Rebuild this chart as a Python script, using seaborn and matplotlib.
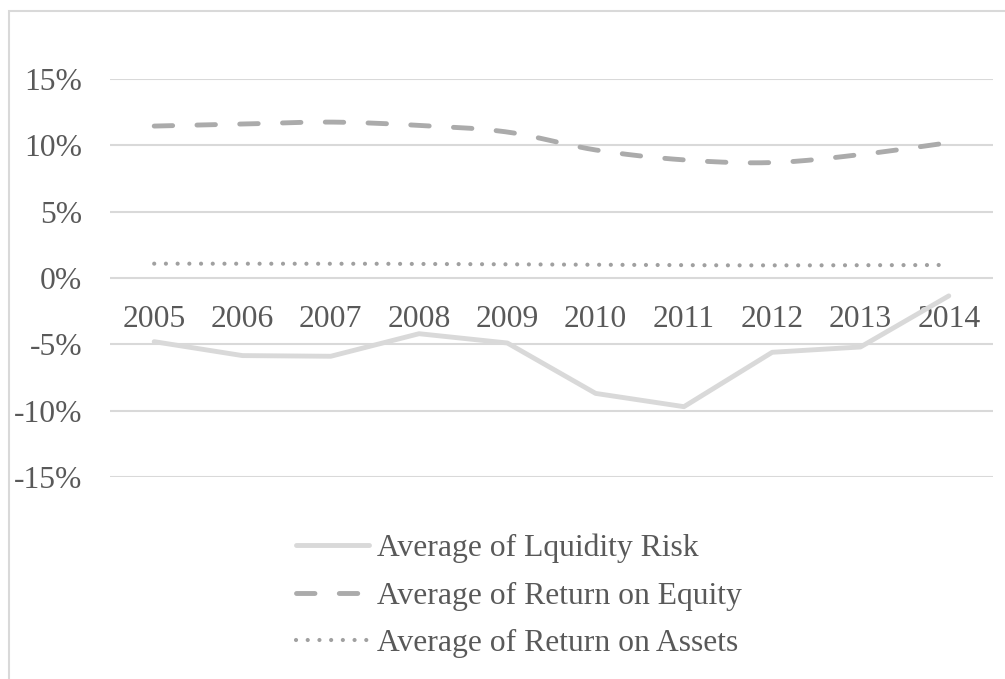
import numpy as np
import pandas as pd
import matplotlib
matplotlib.use("Agg")
import matplotlib.pyplot as plt
from matplotlib.patches import Rectangle
from matplotlib.ticker import FixedLocator, FuncFormatter
import seaborn as sns

# Yearly averages, in percent
years = ["2005", "2006", "2007", "2008", "2009", "2010", "2011", "2012", "2013", "2014"]
liquidity_risk = [-4.8, -5.85, -5.9, -4.2, -4.9, -8.7, -9.7, -5.6, -5.2, -1.35]
return_on_equity = [11.45, 11.6, 11.75, 11.5, 11.0, 9.65, 8.9, 8.7, 9.3, 10.2]
return_on_assets = [1.08, 1.08, 1.08, 1.06, 1.03, 0.99, 0.96, 0.95, 0.96, 0.98]
y_ticks = [-15, -10, -5, 0, 5, 10, 15]

TEXT = "#595959"
GRID = "#d9d9d9"
FS = 22.8


def smooth(xv, yv, n=40):
    """Catmull-Rom curve through the points (spreadsheet-style smoothed line)."""
    p = np.column_stack([xv, yv]).astype(float)
    p = np.vstack([p[0], p, p[-1]])
    xs, ys = [], []
    for i in range(1, len(p) - 2):
        p0, p1, p2, p3 = p[i - 1], p[i], p[i + 1], p[i + 2]
        t = np.linspace(0, 1, n, endpoint=(i == len(p) - 3))[:, None]
        c = 0.5 * ((2 * p1) + (-p0 + p2) * t + (2 * p0 - 5 * p1 + 4 * p2 - p3) * t ** 2
                   + (-p0 + 3 * p1 - 3 * p2 + p3) * t ** 3)
        xs.append(c[:, 0])
        ys.append(c[:, 1])
    return np.concatenate(xs), np.concatenate(ys)


sns.set_style("white")
plt.rcParams["font.family"] = ["Liberation Serif", "DejaVu Serif"]

fig = plt.figure(figsize=(10.05, 6.79), dpi=100)
ax = fig.add_axes([0.1095, 0.2975, 0.8785, 0.5862])

pos = np.arange(len(years))
df = pd.DataFrame({"pos": pos, "liq": liquidity_risk})

sns.lineplot(data=df, x="pos", y="liq", ax=ax, color="#d9d9d9", linewidth=3.5,
             solid_capstyle="round", solid_joinstyle="round", estimator=None,
             label="Average of Lquidity Risk", zorder=3)

ex, ey = smooth(pos, return_on_equity)
sns.lineplot(x=ex, y=ey, ax=ax, color="#ababab", linewidth=3.5, estimator=None, sort=False,
             label="Average of Return on Equity", zorder=3,
             linestyle=(0, (3.8, 5.0)), dash_capstyle="round")

rx, ry = smooth(pos, return_on_assets)
sns.lineplot(x=rx, y=ry, ax=ax, color="#a0a0a0", linewidth=3.0, estimator=None, sort=False,
             label="Average of Return on Assets", zorder=3,
             linestyle=(0, (0.01, 2.8)), dash_capstyle="round")

ax.set_xlim(-0.5, len(years) - 0.5)
ax.set_ylim(-15, 15)
ax.yaxis.set_major_locator(FixedLocator(y_ticks))
ax.yaxis.set_major_formatter(FuncFormatter(lambda v, _: f"{int(round(v))}%"))
ax.set_xticks(pos)
ax.set_xticklabels(years)
ax.set_xlabel("")
ax.set_ylabel("")

ax.grid(axis="y", color=GRID, linewidth=1.5, zorder=0)
ax.grid(axis="x", visible=False)
for s in ["top", "right", "left"]:
    ax.spines[s].set_visible(False)
ax.spines["bottom"].set_position(("data", 0))
ax.spines["bottom"].set_color("none")
ax.tick_params(axis="x", length=0, pad=19.5, labelsize=FS, labelcolor=TEXT)
ax.tick_params(axis="y", length=0, pad=20, labelsize=FS, labelcolor=TEXT)

handles, labels = ax.get_legend_handles_labels()
if ax.get_legend():
    ax.get_legend().remove()
fig.legend(handles, labels, loc="upper left", bbox_to_anchor=(0.295, 0.214),
           frameon=False, fontsize=FS, labelcolor=TEXT, handlelength=2.3,
           handletextpad=0.25, labelspacing=0.58, borderpad=0, borderaxespad=0)

# chart-area border
fig.patches.append(Rectangle((9 / 1005, -0.1), 1.2, 1 - 11 / 679 + 0.1,
                             transform=fig.transFigure, fill=False,
                             edgecolor=GRID, linewidth=1.5))

fig.savefig("out.png", dpi=100)
